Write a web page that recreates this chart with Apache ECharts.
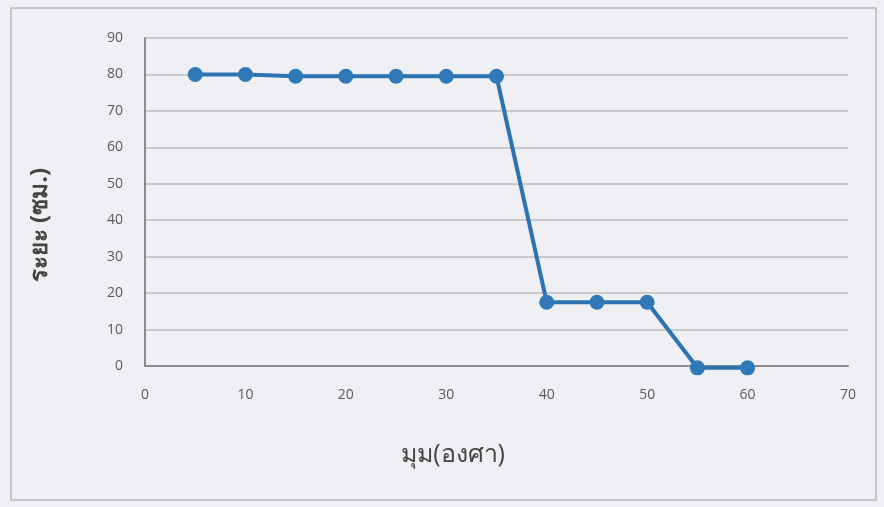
<!DOCTYPE html>
<html><head><meta charset="utf-8">
<script src="https://cdn.jsdelivr.net/npm/echarts@6/dist/echarts.min.js"></script>
<style>html,body{margin:0;padding:0;background:#eef0f3;}#c{width:884px;height:507px;}</style>
</head><body><div id="c"></div>
<script>
const angles = [5, 10, 15, 20, 25, 30, 35, 40, 45, 50, 55, 60];
const distances = [80, 80, 79.5, 79.5, 79.5, 79.5, 79.5, 17.5, 17.5, 17.5, -0.5, -0.5];
const xTitle = 'มุม(องศา)';
const yTitle = 'ระยะ (ซม.)';

const chart = echarts.init(document.getElementById('c'));
const fontFam = '"Open Sans", "Noto Sans", "DejaVu Sans", sans-serif';
chart.setOption({
  backgroundColor: '#eef0f3',
  animation: false,
  graphic: [{
    type: 'rect', shape: {x: 11, y: 8, width: 865, height: 492},
    style: {fill: 'none', stroke: '#b5b7ba', lineWidth: 1.5}
  }, {
    type: 'text', x: 453, y: 455, z: 10,
    style: {text: xTitle, fontSize: 25, fill: '#444', fontFamily: fontFam, align: 'center', verticalAlign: 'middle'}
  }, {
    type: 'text', x: 40, y: 225, rotation: Math.PI / 2, z: 10,
    style: {text: yTitle, fontSize: 24, fill: '#444', fontWeight: 'bold', fontFamily: fontFam, align: 'center', verticalAlign: 'middle'}
  }],
  grid: {left: 145, right: 36, top: 38, bottom: 141},
  xAxis: {
    type: 'value', min: 0, max: 70, interval: 10,
    axisLine: {show: true, lineStyle: {color: '#8c8c8c', width: 2}},
    axisTick: {show: false},
    splitLine: {show: false},
    axisLabel: {margin: 22, fontSize: 14, color: '#5a5a5a', fontFamily: fontFam}
  },
  yAxis: {
    type: 'value', min: 0, max: 90, interval: 10,
    axisLine: {show: true, lineStyle: {color: '#8c8c8c', width: 2}},
    axisTick: {show: false},
    splitLine: {show: true, lineStyle: {color: '#bcbcbc', width: 1.5}},
    axisLabel: {margin: 22, fontSize: 14, color: '#5a5a5a', fontFamily: fontFam}
  },
  series: [{
    type: 'line',
    clip: false,
    data: angles.map((a, i) => [a, distances[i]]),
    symbol: 'circle', symbolSize: 15,
    lineStyle: {color: '#2b73b1', width: 4},
    itemStyle: {color: '#3079b8'}
  }]
});
</script></body></html>
